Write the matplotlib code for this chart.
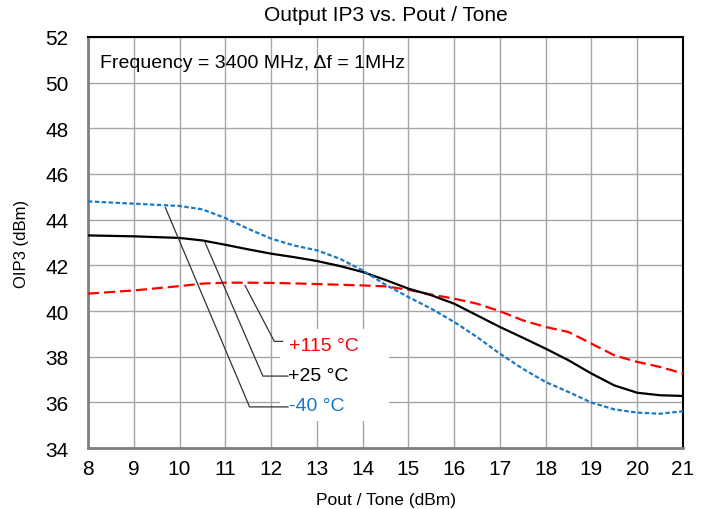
import matplotlib.pyplot as plt
from matplotlib.patches import Rectangle

plt.rcParams["font.family"] = ["Liberation Sans", "DejaVu Sans"]

# Pout / Tone (dBm) sample points
pout = [8, 9, 10, 10.5, 11, 11.5, 12, 12.5, 13, 13.5, 14, 14.5, 15, 15.5,
        16, 16.5, 17, 17.5, 18, 18.5, 19, 19.5, 20, 20.5, 21]

# OIP3 (dBm) per temperature
oip3_m40 = [44.80, 44.70, 44.60, 44.45, 44.07, 43.60, 43.17, 42.87, 42.66, 42.29,
            41.78, 41.15, 40.61, 40.10, 39.52, 38.86, 38.13, 37.47, 36.89, 36.45,
            35.99, 35.69, 35.55, 35.50, 35.61]
oip3_p25 = [43.31, 43.27, 43.20, 43.09, 42.90, 42.70, 42.51, 42.36, 42.19, 41.97,
            41.71, 41.36, 40.98, 40.69, 40.32, 39.81, 39.30, 38.83, 38.35, 37.84,
            37.26, 36.74, 36.42, 36.31, 36.28]
oip3_p115 = [40.76, 40.90, 41.09, 41.20, 41.24, 41.24, 41.23, 41.21, 41.18, 41.15,
             41.12, 41.08, 40.93, 40.72, 40.54, 40.32, 39.99, 39.59, 39.30, 39.08,
             38.57, 38.06, 37.77, 37.55, 37.26]

temp_labels = ["+115 °C", "+25 °C", "-40 °C"]
temp_colors = ["#ff0000", "#000000", "#1a78c8"]

# leader lines: point on curve -> bend -> label
leader_start = [(11.43, 41.12), (10.56, 42.99), (9.69, 44.53)]
leader_bend = [(12.07, 38.67), (11.82, 37.15), (11.53, 35.80)]
leader_end_x = [12.25, 12.37, 12.37]
label_pos = [(12.40, 38.50), (12.38, 37.18), (12.40, 35.85)]

fig = plt.figure(figsize=(7.08, 5.10), dpi=100)
ax = fig.add_axes([0.1243, 0.1196, 0.8404, 0.8059])

ax.set_xlim(8, 21)
ax.set_ylim(34, 52)
ax.set_xticks(range(8, 22))
ax.set_yticks(range(34, 53, 2))
ax.set_axisbelow(True)
ax.grid(True, color="#a6a6a6", linewidth=1.0)
ax.tick_params(length=0, labelsize=15, colors="#000000")
ax.tick_params(axis="y", pad=14)
ax.tick_params(axis="x", pad=8)

for side in ["left", "bottom"]:
    ax.spines[side].set_color("#7f7f7f")
    ax.spines[side].set_linewidth(2.0)
for side in ["top", "right"]:
    ax.spines[side].set_color("#000000")
    ax.spines[side].set_linewidth(1.5)

ax.plot(pout, oip3_p115, color=temp_colors[0], linewidth=1.6,
        linestyle=(0, (5.0, 2.2)), zorder=3)
ax.plot(pout, oip3_p25, color=temp_colors[1], linewidth=1.6, zorder=3)
ax.plot(pout, oip3_m40, color=temp_colors[2], linewidth=1.6,
        linestyle=(0, (2.0, 1.1)), zorder=3)

# white background behind the temperature labels
ax.add_patch(Rectangle((12.2, 35.2), 2.38, 4.03, facecolor="white",
                       edgecolor="none", zorder=1.5))

for s, b, ex, (lx, ly), txt, c in zip(leader_start, leader_bend, leader_end_x,
                                       label_pos, temp_labels, temp_colors):
    ax.plot([s[0], b[0], ex], [s[1], b[1], b[1]], color="#333333",
            linewidth=0.9, zorder=4)
    ax.text(lx, ly, txt, color=c, fontsize=14, ha="left", va="center", zorder=5)

ax.text(8.27, 50.9, "Frequency = 3400 MHz, \u0394f = 1MHz", fontsize=14,
        ha="left", va="center", zorder=5)

ax.set_title("Output IP3 vs. Pout / Tone", fontsize=15, pad=12)
ax.set_xlabel("Pout / Tone (dBm)", fontsize=12.5, labelpad=10)
ax.set_ylabel("OIP3 (dBm)", fontsize=12, labelpad=12)

fig.savefig("out.png", dpi=100)
plt.close(fig)
